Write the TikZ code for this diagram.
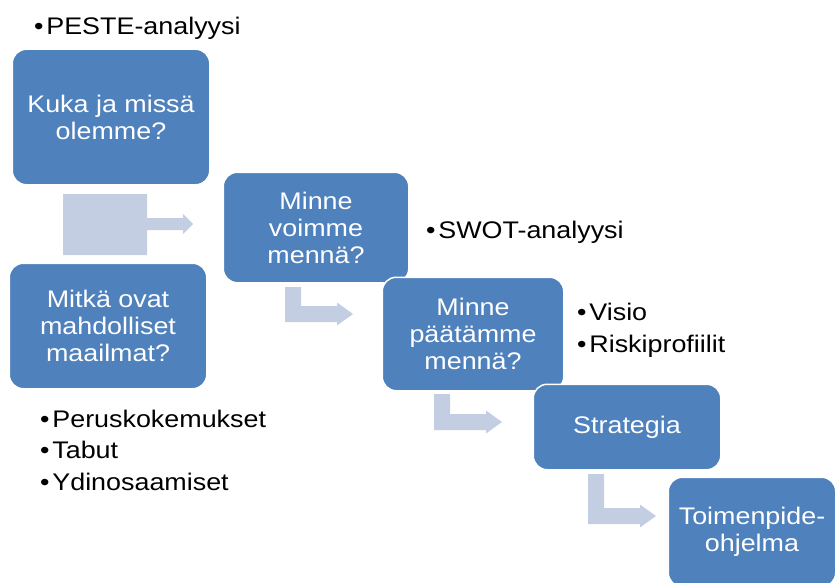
\documentclass[tikz,border=0pt]{standalone}
\usepackage{fontspec}
\setmainfont{Liberation Sans}[FakeStretch=1.12]
\definecolor{stageblue}{HTML}{4F81BD}
\definecolor{arrowgrey}{HTML}{C4CEE3}
\newcommand{\bul}{\textbullet\hspace{3pt}}
% bent block arrow: left x, top y, bottom y
\newcommand{\bendarrow}[3]{%
  \fill[arrowgrey] (#1,#2) -- (#1+16,#2) -- (#1+16,#3-16) -- (#1+52,#3-16)
    -- (#1+52,#3-19.5) -- (#1+68,#3-8) -- (#1+52,#3+3.5) -- (#1+52,#3) -- (#1,#3) -- cycle;}
\tikzset{
  stage/.style={draw=white, line width=1.5pt, fill=stageblue, rounded corners=14pt,
    text=white, align=center, inner sep=0pt, font=\fontsize{24}{27}\selectfont},
  note/.style={anchor=base west, inner sep=0pt, outer sep=0pt, font=\fontsize{24}{28}\selectfont}
}
\begin{document}
\begin{tikzpicture}[x=1pt, y=-1pt]
\useasboundingbox (0,0) rectangle (835,583);
% left column
\node[stage, minimum width=197.5pt, minimum height=135.5pt] (where) at (111,117) {Kuka ja missä\\olemme?};
\node[stage, minimum width=197.5pt, minimum height=125.5pt] (worlds) at (108,326) {Mitkä ovat\\mahdolliset\\maailmat?};
\fill[arrowgrey] (63,194) -- (147,194) -- (147,218) -- (183,218) -- (183,214) -- (193,224)
  -- (183,234) -- (183,230) -- (147,230) -- (147,255) -- (63,255) -- cycle;
% staircase
\node[stage, minimum width=185.5pt, minimum height=110.5pt] (could) at (316,227.5) {Minne\\voimme\\mennä?};
\node[stage, minimum width=181.5pt, minimum height=113.5pt] (decide) at (473,334) {Minne\\päätämme\\mennä?};
\node[stage, minimum width=187.5pt, minimum height=85.5pt] (strategy) at (627,427) {Strategia};
\node[stage, minimum width=167.5pt, minimum height=109.5pt] (action) at (752,532) {Toimenpide-\\ohjelma};
\bendarrow{285}{287}{322}
\bendarrow{434}{394}{430}
\bendarrow{588}{474}{524}
% bullet notes
\node[note] (peste) at (34,35) {\bul PESTE-analyysi};
\node[note] (swot) at (426,238) {\bul SWOT-analyysi};
\node[note] (visio) at (577,320) {\bul Visio};
\node[note] (risk) at ([yshift=-32pt]visio.base west) {\bul Riskiprofiilit};
\node[note] (basic) at (40,427) {\bul Peruskokemukset};
\node[note] (taboo) at ([yshift=-31.5pt]basic.base west) {\bul Tabut};
\node[note] (core) at ([yshift=-31.5pt]taboo.base west) {\bul Ydinosaamiset};
\end{tikzpicture}
\end{document}
